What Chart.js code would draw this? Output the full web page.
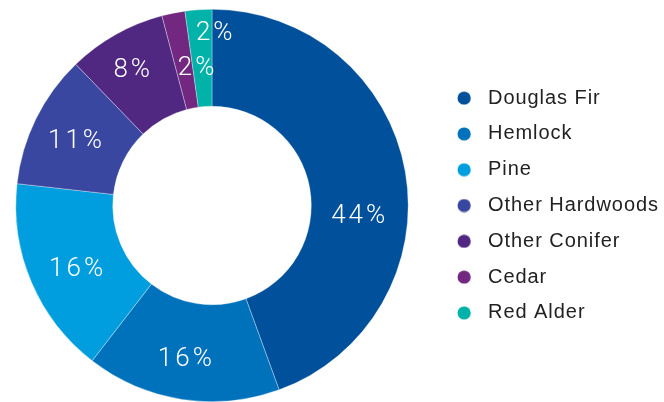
<!DOCTYPE html>
<html><head><meta charset="utf-8">
<script src="https://cdn.jsdelivr.net/npm/chart.js@4/dist/chart.umd.min.js"></script>
<style>html,body{margin:0;padding:0;background:#fff;overflow:hidden}</style>
</head><body>
<canvas id="c" width="664" height="402"></canvas>
<script>
// ---- data ----
const categories = ['Douglas Fir', 'Hemlock', 'Pine', 'Other Hardwoods', 'Other Conifer', 'Cedar', 'Red Alder'];
const shares = [44.4, 16.0, 16.3, 11.0, 8.1, 1.9, 2.2];
const colors = ['#00509B', '#0072BC', '#009EDE', '#3A47A1', '#502882', '#722880', '#00B2A8'];

// ---- label placement tweaks (degrees clockwise, px outward) ----
const labelAngleShift = [13.2, 1.4, -1.0, -0.2, -0.7, 4.9, 4.7];
const labelRadiusShift = [-1.3, 5, 1, 4.7, 12.5, -6.6, 27];

const LEGEND_FONT_SIZE = 20;
const LEGEND_FONT = { family: '"Liberation Sans", Arial, sans-serif', size: LEGEND_FONT_SIZE };
const LEGEND_PAD = 15.8;
const MARK_W = 38.2;
const LETTER_SP = '0.95px';

function marker(color) {
  const c = document.createElement('canvas');
  c.width = 38; c.height = 14;
  const g = c.getContext('2d');
  g.fillStyle = color;
  g.beginPath(); g.arc(24.2, 7, 6.6, 0, Math.PI * 2); g.fill();
  return c;
}
const markers = colors.map(marker);

// measure widest legend text to place legend so the doughnut sits where it should
const cv = document.getElementById('c');
const mctx = cv.getContext('2d');
mctx.font = LEGEND_FONT_SIZE + 'px ' + LEGEND_FONT.family;
mctx.letterSpacing = LETTER_SP;
const maxT = Math.max(...categories.map(t => mctx.measureText(t).width));
const legendW = LEGEND_PAD + MARK_W + LEGEND_FONT_SIZE + maxT;
const padRight = 664 - 424 - legendW;

const spacingPlugin = {
  id: 'spacing',
  beforeUpdate(chart) { chart.ctx.letterSpacing = LETTER_SP; },
  beforeDraw(chart) { chart.ctx.letterSpacing = LETTER_SP; }
};

const sliceLabelPlugin = {
  id: 'sliceLabels',
  afterDatasetsDraw(chart) {
    const ctx = chart.ctx;
    const meta = chart.getDatasetMeta(0);
    ctx.save();
    ctx.fillStyle = '#ffffff';
    ctx.font = '300 26px Roboto, "Open Sans", sans-serif';
    ctx.letterSpacing = '3px';
    ctx.textAlign = 'center';
    ctx.textBaseline = 'middle';
    meta.data.forEach((arc, i) => {
      const p = arc.getProps(['x', 'y', 'startAngle', 'endAngle', 'innerRadius', 'outerRadius'], true);
      const a = (p.startAngle + p.endAngle) / 2 + labelAngleShift[i] * Math.PI / 180;
      const r = (p.innerRadius + p.outerRadius) / 2 + labelRadiusShift[i];
      ctx.fillText(Math.round(shares[i]) + '%', p.x + r * Math.cos(a) + 1.5, p.y + r * Math.sin(a) + 3.2);
    });
    ctx.restore();
  }
};

new Chart(cv, {
  type: 'doughnut',
  data: {
    labels: categories,
    datasets: [{
      data: shares,
      backgroundColor: colors,
      borderColor: 'rgba(255,255,255,0.55)',
      borderWidth: 0.6,
      hoverOffset: 0
    }]
  },
  options: {
    responsive: false,
    animation: false,
    cutout: '50.6%',
    layout: { padding: { left: 0, top: 9, bottom: 0, right: padRight } },
    plugins: {
      tooltip: { enabled: false },
      legend: {
        position: 'right',
        align: 'center',
        labels: {
          usePointStyle: true,
          pointStyleWidth: MARK_W,
          padding: LEGEND_PAD,
          color: '#222222',
          font: LEGEND_FONT,
          generateLabels: () => categories.map((t, i) => ({
            text: t, fillStyle: colors[i], strokeStyle: colors[i], lineWidth: 0,
            pointStyle: markers[i], hidden: false, index: i, fontColor: '#222222'
          }))
        }
      }
    }
  },
  plugins: [spacingPlugin, sliceLabelPlugin]
});
</script>
</body></html>
